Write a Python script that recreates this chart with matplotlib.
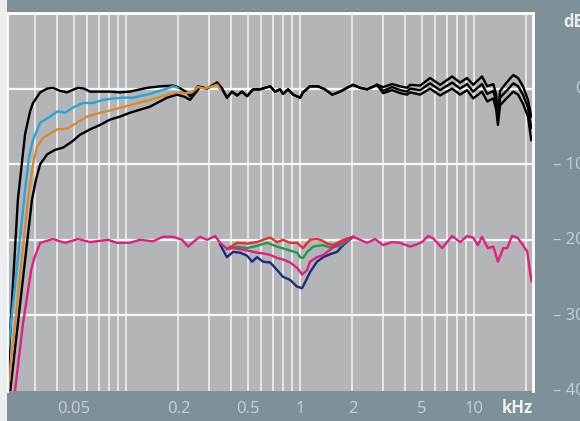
import matplotlib.pyplot as plt
from matplotlib.patches import Rectangle

# frequency response, upper group: bass settings (low end) and treble settings (high end)
hz_top_a = [20.7, 23.9, 26.3, 28.1, 29.2, 32.1, 35.2, 38, 41.8, 45.8, 49, 53, 57.4, 62.1, 71, 81,
            92.4, 105, 132, 157, 186, 199, 224, 233, 259]
db_top_a = [-39.5, -14.7, -6, -3, -1.9, -0.5, 0, 0.1, -0.3, -0.5, -0.2, 0.1, 0, -0.4, -0.4, -0.4,
            -0.5, -0.4, 0.1, 0.3, 0.4, 0.2, -0.5, -1.0, 0.3]

hz_blue = [20.7, 26.3, 27.7, 29.2, 32.1, 36.6, 40.6, 44.6, 49.6, 56.6, 64.6, 73.8, 84.2, 96.1,
           110, 137, 172, 186, 199]
db_blue = [-36, -13.4, -9, -6.8, -4.5, -3.7, -3, -3.2, -2.5, -1.9, -1.9, -1.5, -1.3, -1.2,
           -1.2, -0.7, 0, 0.3, 0.1]

hz_orange = [21, 27.3, 29.2, 30.8, 33.4, 40.1, 45.8, 52.3, 59.7, 71, 84.2, 101, 137, 172, 196,
             218, 239, 259, 284, 334, 347]
db_orange = [-40, -14.7, -10, -7.7, -6.5, -5.4, -5.3, -4.5, -3.7, -3.2, -2.8, -2.3, -1.5, -0.8,
             -0.5, -0.6, -0.5, 0.2, 0.0, 0.5, -0.1]

hz_top_d = [21.6, 28.8, 30.4, 32.1, 35.2, 39.1, 43.5, 49, 54.4, 62.1, 71, 81, 92.4, 105, 137,
            172, 196, 218, 233, 266]
db_top_d = [-40, -14.7, -12, -10, -8.7, -8.1, -7.8, -7, -6.1, -5.4, -4.8, -4.1, -3.7, -3.2, -2.4,
            -1.2, -0.8, -1.1, -1.5, 0.2]

hz_top_mid = [292, 334, 356, 380, 406, 435, 464, 496, 537, 589, 673, 718, 767, 798, 853, 912,
              1000, 1040, 1140, 1270, 1390, 1530, 1700, 1860, 2020, 2210, 2430, 2770]
db_top_mid = [0, 0.8, 0, -1.2, -0.4, -0.9, -0.4, -1.0, -0.1, -0.1, 0.3, -0.4, -0.1, -0.7, -0.1,
              -0.8, -1.2, -0.5, 0.3, 0.3, -0.1, -0.8, -0.4, 0.1, 0.5, 0.1, -0.1, 0.5]

hz_hi = [3000, 3380, 3760, 4120, 4290, 4900, 5580, 6380, 7480, 8310, 9120, 9870, 11100, 11900,
         12900, 13400, 13700, 14100, 15500, 16800, 17900, 19100, 20400, 21300]
db_hi_1 = [0.2, 0.6, 0.3, 0.1, 0.5, 0.4, 1.4, 0.5, 1.6, 0.8, 1.4, 0.5, 1.6, 0.3,
           0.6, -0.8, -3.5, -0.3, 0.9, 1.8, 1.4, 0.3, -1.5, -3.7]
db_hi_2 = [-0.3, 0.2, -0.2, -0.4, 0, -0.2, 0.7, -0.2, 0.8, 0, 0.6, -0.4, 0.6, -0.7,
           -0.3, -1.8, -4.2, -1.2, -0.2, 0.7, 0.3, -0.8, -2.5, -5.2]
db_hi_3 = [-0.6, -0.2, -0.6, -0.8, -0.5, -0.8, 0, -0.9, 0, -0.8, -0.2, -1.3, -0.4, -1.7,
           -1.3, -2.8, -4.8, -2.2, -1.2, -0.4, -0.8, -2, -3.7, -6.8]

# lower group (-20 dB offset): presence settings
hz_pink = [23, 25.6, 28.5, 29.6, 32.1, 38, 44.6, 53, 62.1, 78.8, 88.8, 105, 120, 143, 163, 186,
           210, 227, 243, 266, 292, 325, 347, 380, 412, 470, 516, 566, 613, 673, 738, 798, 876,
           961, 1027, 1097, 1140, 1250, 1360, 1490, 1630, 1770, 2020, 2210, 2430, 2700, 3000,
           3380, 3760, 4290, 4700, 5020, 5440, 5810, 6550, 7480, 8310, 9120, 9870, 10500, 11100,
           12000, 12900, 13700, 14700, 15500, 16500, 17700, 19100, 20200, 21000, 21400]
db_pink = [-40, -31, -24, -22.5, -20.4, -19.9, -20.4, -19.9, -20.3, -20, -20.4, -20.4, -20, -20.2,
           -19.6, -19.6, -20, -20.9, -20.3, -19.6, -20, -19.5, -20.4, -21.2, -21.1, -21.3, -21.5,
           -21.7, -21.8, -22, -22.4, -22.6, -23, -23.7, -24.6, -24, -22.9, -22.3, -22, -21.3,
           -20.7, -20.3, -19.6, -20, -20.4, -19.9, -20.7, -20.3, -20.4, -20.9, -20.6, -20.3,
           -19.5, -19.8, -21.1, -19.5, -20.3, -19.5, -19.7, -20.7, -19.6, -21.1, -20.9, -22.9,
           -21.1, -21.1, -19.5, -19.7, -20.7, -21.6, -24.4, -25.5]

hz_red = [380, 435, 496, 566, 613, 673, 738, 798, 876, 961, 1040, 1140, 1250, 1340, 1430, 1550,
          1770, 2020]
db_red = [-21.2, -20.4, -20.5, -20.3, -20, -19.7, -20.3, -20, -20.4, -20.4, -21.1, -20, -19.9,
          -20.1, -20.5, -20.7, -20, -19.6]

hz_green = [380, 435, 496, 566, 646, 738, 842, 961, 1000, 1040, 1100, 1190, 1340, 1490, 1700, 2020]
db_green = [-21.2, -20.9, -21.1, -20.8, -20.4, -20.9, -21.3, -21.7, -22.3, -22.4, -21.6, -20.9,
            -20.7, -21, -20.8, -19.6]

hz_navy = [347, 380, 412, 452, 496, 530, 566, 613, 673, 738, 798, 876, 961, 1027, 1070, 1140,
           1250, 1360, 1490, 1630, 1770, 2020]
db_navy = [-20.6, -22.3, -21.6, -21.7, -22.1, -22.9, -22.3, -22.9, -23, -24, -24.9, -25.3, -26.2,
           -26.4, -25.6, -24.3, -22.9, -22.3, -21.9, -21.6, -20.7, -19.6]

tick_khz = [0.05, 0.2, 0.5, 1, 2, 5, 10]
tick_labels = ["0.05", "0.2", "0.5", "1", "2", "5", "10"]
grid_khz = [m * d for d in (0.01, 0.1, 1, 10) for m in range(1, 10) if 0.025 < m * d < 21]
db_labels = ["0", "– 10", "– 20", "– 30", "– 40"]
db_label_vals = [0, -10, -20, -30, -40]

frame = "#7e9098"
panel = "#b3b5b8"
label_col = "#c6d0d5"

plt.rcParams["font.family"] = ["Open Sans", "DejaVu Sans"]

fig = plt.figure(figsize=(5.8, 4.21), dpi=100, facecolor=frame)
# light strip down the left edge
fig.patches.append(Rectangle((0, 0), 7 / 580, 1, transform=fig.transFigure,
                             facecolor="#eceff0", edgecolor="none", zorder=0))
ax = fig.add_axes([7 / 580, 1 - 391 / 421, 526 / 580, 378 / 421])
ax.set_facecolor(panel)
ax.set_xscale("log")
ax.set_xlim(0.0207, 21.8)
ax.set_ylim(-40, 10)

ax.set_xticks(grid_khz, minor=True)
ax.set_xticks(tick_khz, tick_labels)
ax.xaxis.set_minor_formatter(plt.NullFormatter())
ax.set_yticks([0, -10, -20, -30])
ax.set_yticklabels([])
ax.tick_params(which="both", length=0, colors=label_col, labelsize=12, pad=7)
ax.grid(which="both", axis="x", color="white", lw=1.1, alpha=0.85)
ax.grid(which="major", axis="y", color="white", lw=1.6, alpha=0.9)
for s in ax.spines.values():
    s.set_color("white")
    s.set_linewidth(2)
ax.spines["bottom"].set_visible(False)


def khz(hz):
    return [h / 1000 for h in hz]


lw = 1.7
# upper group
ax.plot(khz(hz_top_d + hz_top_mid + hz_hi), db_top_d + db_top_mid + db_hi_3, color="black", lw=lw)
ax.plot(khz(hz_top_mid[-1:] + hz_hi), db_top_mid[-1:] + db_hi_2, color="black", lw=lw)
ax.plot(khz(hz_top_a + hz_top_mid + hz_hi), db_top_a + db_top_mid + db_hi_1, color="black", lw=lw)
ax.plot(khz(hz_blue), db_blue, color="#2aa3d6", lw=lw)
ax.plot(khz(hz_orange), db_orange, color="#d68c2e", lw=lw)

# lower group
ax.plot(khz(hz_navy), db_navy, color="#1b2a7a", lw=lw)
ax.plot(khz(hz_green), db_green, color="#1f9a4c", lw=lw)
ax.plot(khz(hz_red), db_red, color="#e2322c", lw=lw)
ax.plot(khz(hz_pink), db_pink, color="#e0207c", lw=lw)

fig.text(517 / 580, 1 - 408 / 421, "kHz", ha="center", va="center",
         color="#eef2f3", fontsize=12, fontweight="bold")

for v, t in zip(db_label_vals, db_labels):
    y = 1 - (89 + 7.55 * -v) / 421
    fig.text(1.008, y, t, ha="right", va="center", color=label_col, fontsize=12)
fig.text(1.008, 1 - 22 / 421, "dB", ha="right", va="center", color="#e8eef0", fontsize=12,
         fontweight="bold")

plt.savefig("out.png", dpi=100, facecolor=frame)
